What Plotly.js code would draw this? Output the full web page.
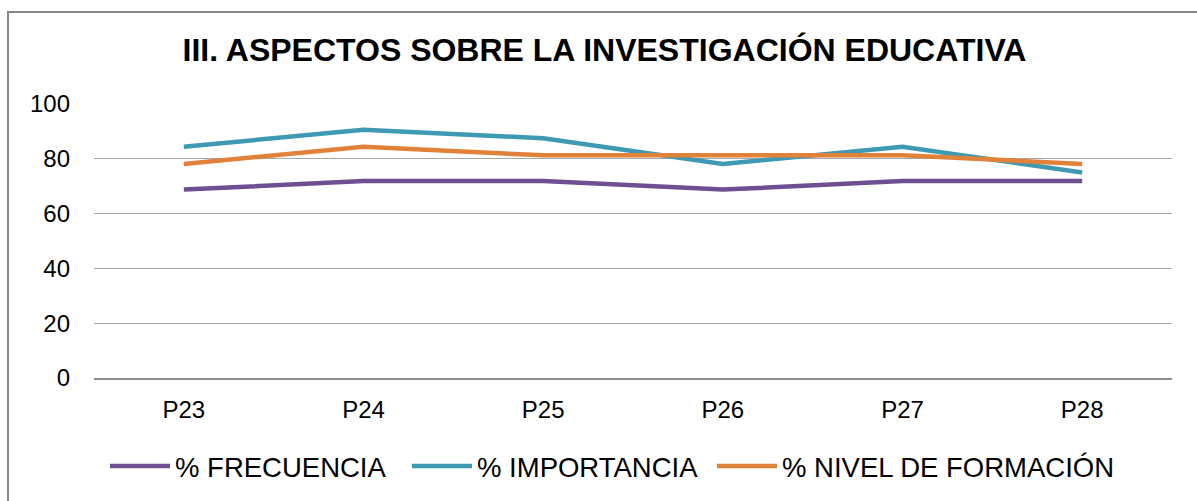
<!DOCTYPE html>
<html>
<head>
<meta charset="utf-8">
<script src="https://cdn.plot.ly/plotly-3.0.1.min.js"></script>
<style>
  html, body { margin: 0; padding: 0; background: #fff; }
  #wrap { position: relative; width: 1197px; height: 501px; overflow: hidden; }
  #chart { position: absolute; left: 0; top: 0; width: 1197px; height: 501px; }
  #frame { position: absolute; left: 7px; top: 11px; width: 1200px; height: 600px;
           border: 2px solid #878787; pointer-events: none; box-sizing: border-box; }
</style>
</head>
<body>
<div id="wrap">
  <div id="chart"></div>
  <div id="frame"></div>
</div>
<script>
const categories = ["P23", "P24", "P25", "P26", "P27", "P28"];
const frecuencia = [68.75, 71.88, 71.88, 68.75, 71.88, 71.88];
const importancia = [84.38, 90.63, 87.5, 78.13, 84.38, 75];
const nivelFormacion = [78.13, 84.38, 81.25, 81.25, 81.25, 78.13];
const seriesNames = ["% FRECUENCIA", "% IMPORTANCIA", "% NIVEL DE FORMACIÓN"];
const yTicks = [0, 20, 40, 60, 80, 100];

const colors = ["#6E4F91", "#3E9AB2", "#E2823A"];
const seriesData = [frecuencia, importancia, nivelFormacion];
const legendIds = ["legend", "legend2", "legend3"];

const traces = seriesData.map((vals, i) => ({
  type: "scatter",
  mode: "lines",
  x: categories,
  y: vals,
  name: seriesNames[i],
  legend: legendIds[i],
  line: { color: colors[i], width: 4.5 },
  hoverinfo: "skip"
}));

const font = "Liberation Sans, Arial, sans-serif";
const plotL = 94, plotW = 1078, plotB = 379, plotH = 275;
const legendLefts = [105, 407, 712];
const legendCenterY = 466;

function legendAt(px) {
  return {
    orientation: "h",
    x: (px - plotL) / plotW,
    xanchor: "left",
    y: (plotB - legendCenterY) / plotH,
    yanchor: "middle",
    font: { family: font, size: 27.5, color: "#000000" },
    itemwidth: 60,
    bgcolor: "rgba(0,0,0,0)"
  };
}

const layout = {
  width: 1197,
  height: 501,
  margin: { l: 94, r: 25, t: 104, b: 122 },
  paper_bgcolor: "#ffffff",
  plot_bgcolor: "#ffffff",
  title: {
    text: "<b>III. ASPECTOS SOBRE LA INVESTIGACIÓN EDUCATIVA</b>",
    font: { family: font, size: 32, color: "#000000" },
    x: 0.505,
    xanchor: "center",
    y: 0.9,
    yanchor: "middle"
  },
  xaxis: {
    type: "category",
    tickvals: categories,
    range: [-0.5, 5.5],
    showgrid: false,
    showline: true,
    linecolor: "#8c8c8c",
    linewidth: 1.5,
    ticks: "",
    ticklabelstandoff: 10,
    tickfont: { family: font, size: 24, color: "#000000" },
    zeroline: false,
    fixedrange: true
  },
  yaxis: {
    range: [0, 100],
    tickvals: yTicks,
    ticktext: yTicks.map(String),
    showgrid: true,
    gridcolor: "#a6a6a6",
    gridwidth: 1,
    zeroline: false,
    showline: false,
    ticks: "",
    ticklabelstandoff: 23,
    tickfont: { family: font, size: 24, color: "#000000" },
    fixedrange: true
  },
  showlegend: true,
  legend: legendAt(legendLefts[0]),
  legend2: legendAt(legendLefts[1]),
  legend3: legendAt(legendLefts[2])
};

Plotly.newPlot("chart", traces, layout, { displayModeBar: false, staticPlot: true });
</script>
</body>
</html>
